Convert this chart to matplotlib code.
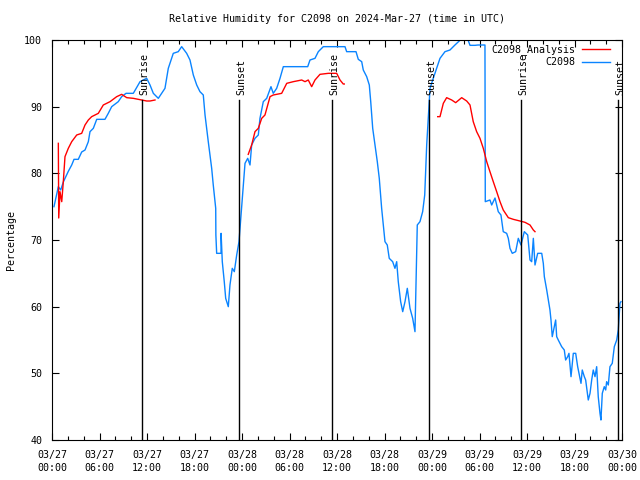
import matplotlib
matplotlib.use('Agg')
import matplotlib.pyplot as plt
import matplotlib.dates as mdates
from matplotlib.lines import Line2D
import numpy as np
from datetime import datetime, timedelta

# hours after 2024-03-27 00:00 UTC, relative humidity in %
obs_hours = [0.25, 0.80, 1.10, 1.43, 2.06, 2.49, 2.78, 3.32, 3.75, 4.17, 4.59, 4.80, 5.22, 5.65,
             6.69, 7.11, 7.54, 8.37, 8.80, 9.35, 10.27, 11.12, 11.96, 12.38, 12.80, 13.43, 14.27,
             14.69, 15.32, 15.95, 16.38, 17.01, 17.43, 17.85, 18.28, 18.69, 18.91, 19.11, 19.33,
             19.74, 20.17, 20.37, 20.68, 20.70, 20.80, 21.35, 21.36, 21.51, 21.76, 21.94, 22.27,
             22.48, 22.77, 23.03, 23.33, 23.62, 23.75, 24.16, 24.38, 24.72, 25.01, 25.22, 25.64,
             26.06, 26.27, 26.69, 27.12, 27.66, 27.95, 28.38, 28.80, 29.22, 32.30, 32.59, 33.22,
             33.64, 34.27, 37.01, 37.22, 38.40, 38.69, 39.12, 39.32, 39.75, 40.08, 40.26, 40.51,
             40.80, 41.09, 41.34, 41.64, 41.85, 42.06, 42.35, 42.60, 43.03, 43.32, 43.54, 43.74,
             44.04, 44.30, 44.59, 44.88, 45.22, 45.56, 45.85, 45.98, 46.14, 46.48, 46.82, 47.08,
             47.33, 47.53, 47.75, 48.16, 48.59, 49.01, 49.64, 50.27, 50.90, 51.75, 51.91, 52.40,
             52.80, 53.43, 53.81, 54.44, 54.69, 54.73, 55.32, 55.54, 55.96, 56.37, 56.71, 57.00,
             57.43, 57.64, 57.85, 58.14, 58.57, 58.90, 59.24, 59.66, 60.09, 60.38, 60.59, 60.80,
             61.01, 61.35, 61.86, 62.06, 62.19, 62.49, 62.69, 62.90, 63.03, 63.19, 63.44, 63.62,
             63.75, 63.95, 64.38, 64.71, 64.88, 65.14, 65.30, 65.56, 65.85, 66.15, 66.40, 66.57,
             66.82, 66.98, 67.24, 67.41, 67.74, 67.96, 68.17, 68.37, 68.59, 68.80, 69.00, 69.22,
             69.34, 69.51, 69.76, 69.94, 70.06, 70.27, 70.48, 70.77, 71.03, 71.33, 71.53, 71.74,
             71.87]
obs_rh = [75.0, 78.0, 77.5, 78.7, 80.3, 81.25, 82.1, 82.1, 83.2, 83.5, 84.75, 86.25, 86.75, 88.1,
          88.1, 89.0, 90.0, 90.75, 91.5, 92.0, 92.0, 93.75, 94.25, 93.25, 92.0, 91.25, 92.75,
          95.75, 98.0, 98.25, 99.0, 98.0, 97.0, 94.75, 93.25, 92.25, 92.0, 91.75, 88.75,
          84.75, 80.75, 78.25, 74.75, 70.75, 68.0, 68.0, 71.0, 66.75, 63.75, 61.25, 60.0,
          63.25, 65.75, 65.25, 67.75, 69.75, 71.75, 78.25, 81.5, 82.25, 81.25, 84.25, 85.25,
          85.75, 88.25, 90.75, 91.25, 93.0, 92.0, 92.75, 94.25, 96.0, 96.0, 97.0, 97.25,
          98.25, 99.0, 99.0, 98.25, 98.25, 97.1, 96.75, 95.5, 94.5, 93.25, 90.75, 86.75,
          84.25, 81.75, 79.25, 74.75, 72.25, 69.75, 69.25, 67.25, 66.75, 65.75, 66.75, 63.75,
          60.75, 59.25, 60.75, 62.75, 59.75, 58.25, 56.25, 63.75, 72.25, 72.75, 74.25, 76.75,
          84.25, 88.25, 92.75, 94.25, 95.75, 97.25, 98.25, 98.5, 99.25, 100.2, 100.5, 100.5,
          99.2, 99.2, 99.25, 99.25, 99.25, 75.75, 76.0, 75.25, 76.3, 74.25, 73.75, 71.25,
          71.0, 70.25, 68.75, 68.0, 68.25, 70.25, 69.25, 71.25, 70.75, 67.0, 66.75, 70.25,
          66.25, 68.0, 68.0, 66.5, 64.5, 62.5, 61.0, 59.5, 58.0, 55.5, 57.0, 58.0,
          55.5, 55.0, 54.0, 53.5, 52.0, 52.5, 53.0, 49.5, 53.0, 53.0, 51.0, 50.0,
          48.5, 50.5, 49.5, 49.0, 46.0, 47.0, 49.0, 50.5, 49.5, 51.0, 46.5, 44.0,
          43.0, 47.0, 48.0, 47.5, 48.75, 48.25, 51.0, 51.5, 54.0, 55.0, 56.5, 60.5,
          60.75]

# analysis, three separate runs
ana_hours = [
    [0.80, 0.85, 1.01, 1.23, 1.43, 1.64, 2.06, 2.49, 3.12, 3.75, 4.17, 4.59, 5.01, 5.85, 6.48,
     7.33, 8.17, 8.80, 9.44, 10.27, 11.33, 11.96, 12.38, 13.01],
    [24.79, 25.22, 25.64, 26.06, 26.49, 26.90, 27.54, 27.95, 29.01, 29.65, 30.48, 31.54, 31.96,
     32.37, 32.80, 33.22, 33.85, 34.90, 35.96, 36.38, 36.79, 36.92],
    [48.72, 49.01, 49.43, 49.85, 50.49, 50.99, 51.75, 52.38, 52.80, 53.21, 53.64, 54.06, 54.48,
     54.91, 55.32, 55.74, 56.17, 56.59, 57.00, 57.64, 58.27, 59.11, 59.75, 60.38, 60.80, 61.01],
]
ana_rh = [
    [84.5, 73.3, 77.25, 75.75, 78.75, 82.5, 83.75, 84.75, 85.75, 86.0, 87.25, 88.0, 88.5, 89.0,
     90.25, 90.75, 91.5, 91.85, 91.35, 91.25, 91.0, 90.85, 90.85, 91.0],
    [82.85, 84.25, 86.25, 86.75, 88.25, 88.75, 91.5, 91.75, 92.0, 93.5, 93.75, 94.0, 93.75,
     94.0, 93.0, 94.0, 94.85, 95.0, 95.0, 94.0, 93.4, 93.4],
    [88.5, 88.5, 90.5, 91.35, 91.0, 90.6, 91.35, 90.85, 90.25, 87.75, 86.25, 85.25, 83.75,
     81.75, 80.25, 78.75, 77.25, 75.75, 74.5, 73.35, 73.1, 72.85, 72.65, 72.25, 71.5, 71.25],
]

sun_hours = [11.37, 23.62, 35.37, 47.62, 59.24, 71.55]
sun_names = ['Sunrise', 'Sunset', 'Sunrise', 'Sunset', 'Sunrise', 'Sunset']

t0 = datetime(2024, 3, 27)
def to_time(hrs):
    return [t0 + timedelta(hours=h) for h in hrs]

plt.rcParams['font.family'] = 'DejaVu Sans Mono'
plt.rcParams['font.size'] = 7.2

fig = plt.figure(figsize=(6.4, 4.8), dpi=100)
ax = fig.add_axes([52/640, 40/480, 570/640, 400/480])

blue = '#0a84ff'
red = '#ff0000'
ax.plot(to_time(obs_hours), obs_rh, color=blue, lw=1)
for hh, vv in zip(ana_hours, ana_rh):
    ax.plot(to_time(hh), vv, color=red, lw=1)

for h, name in zip(sun_hours, sun_names):
    t = t0 + timedelta(hours=h)
    ax.plot([t, t], [40, 91], color='black', lw=1)
    ax.text(t + timedelta(hours=0.3), 91.8, name, rotation=90, ha='center', va='bottom')

ax.set_xlim(t0, t0 + timedelta(hours=72))
ax.set_ylim(40, 100)
ax.set_yticks(np.arange(40, 101, 10))
ax.xaxis.set_major_locator(mdates.HourLocator(byhour=[0, 6, 12, 18]))
ax.xaxis.set_minor_locator(mdates.HourLocator(interval=2))
ax.xaxis.set_major_formatter(mdates.DateFormatter('%m/%d\n%H:%M'))
ax.tick_params(which='both', direction='in', top=True, right=True, width=0.8)
ax.tick_params(which='major', length=5, pad=7)
ax.tick_params(which='minor', length=3)
for lab in ax.get_xticklabels():
    lab.set_linespacing(1.35)

ax.set_ylabel('Percentage', labelpad=6)
ax.set_title('Relative Humidity for C2098 on 2024-Mar-27 (time in UTC)', fontsize=7.2, pad=13)

# legend, gnuplot style: text right-aligned, sample to the right
ax.text(0.9175, 0.977, 'C2098_Analysis', transform=ax.transAxes, ha='right', va='center')
ax.add_line(Line2D([0.930, 0.979], [0.977, 0.977], transform=ax.transAxes, color=red, lw=1))
ax.text(0.9175, 0.944, 'C2098', transform=ax.transAxes, ha='right', va='center')
ax.add_line(Line2D([0.930, 0.979], [0.944, 0.944], transform=ax.transAxes, color=blue, lw=1))

fig.savefig('out.png', dpi=100)
